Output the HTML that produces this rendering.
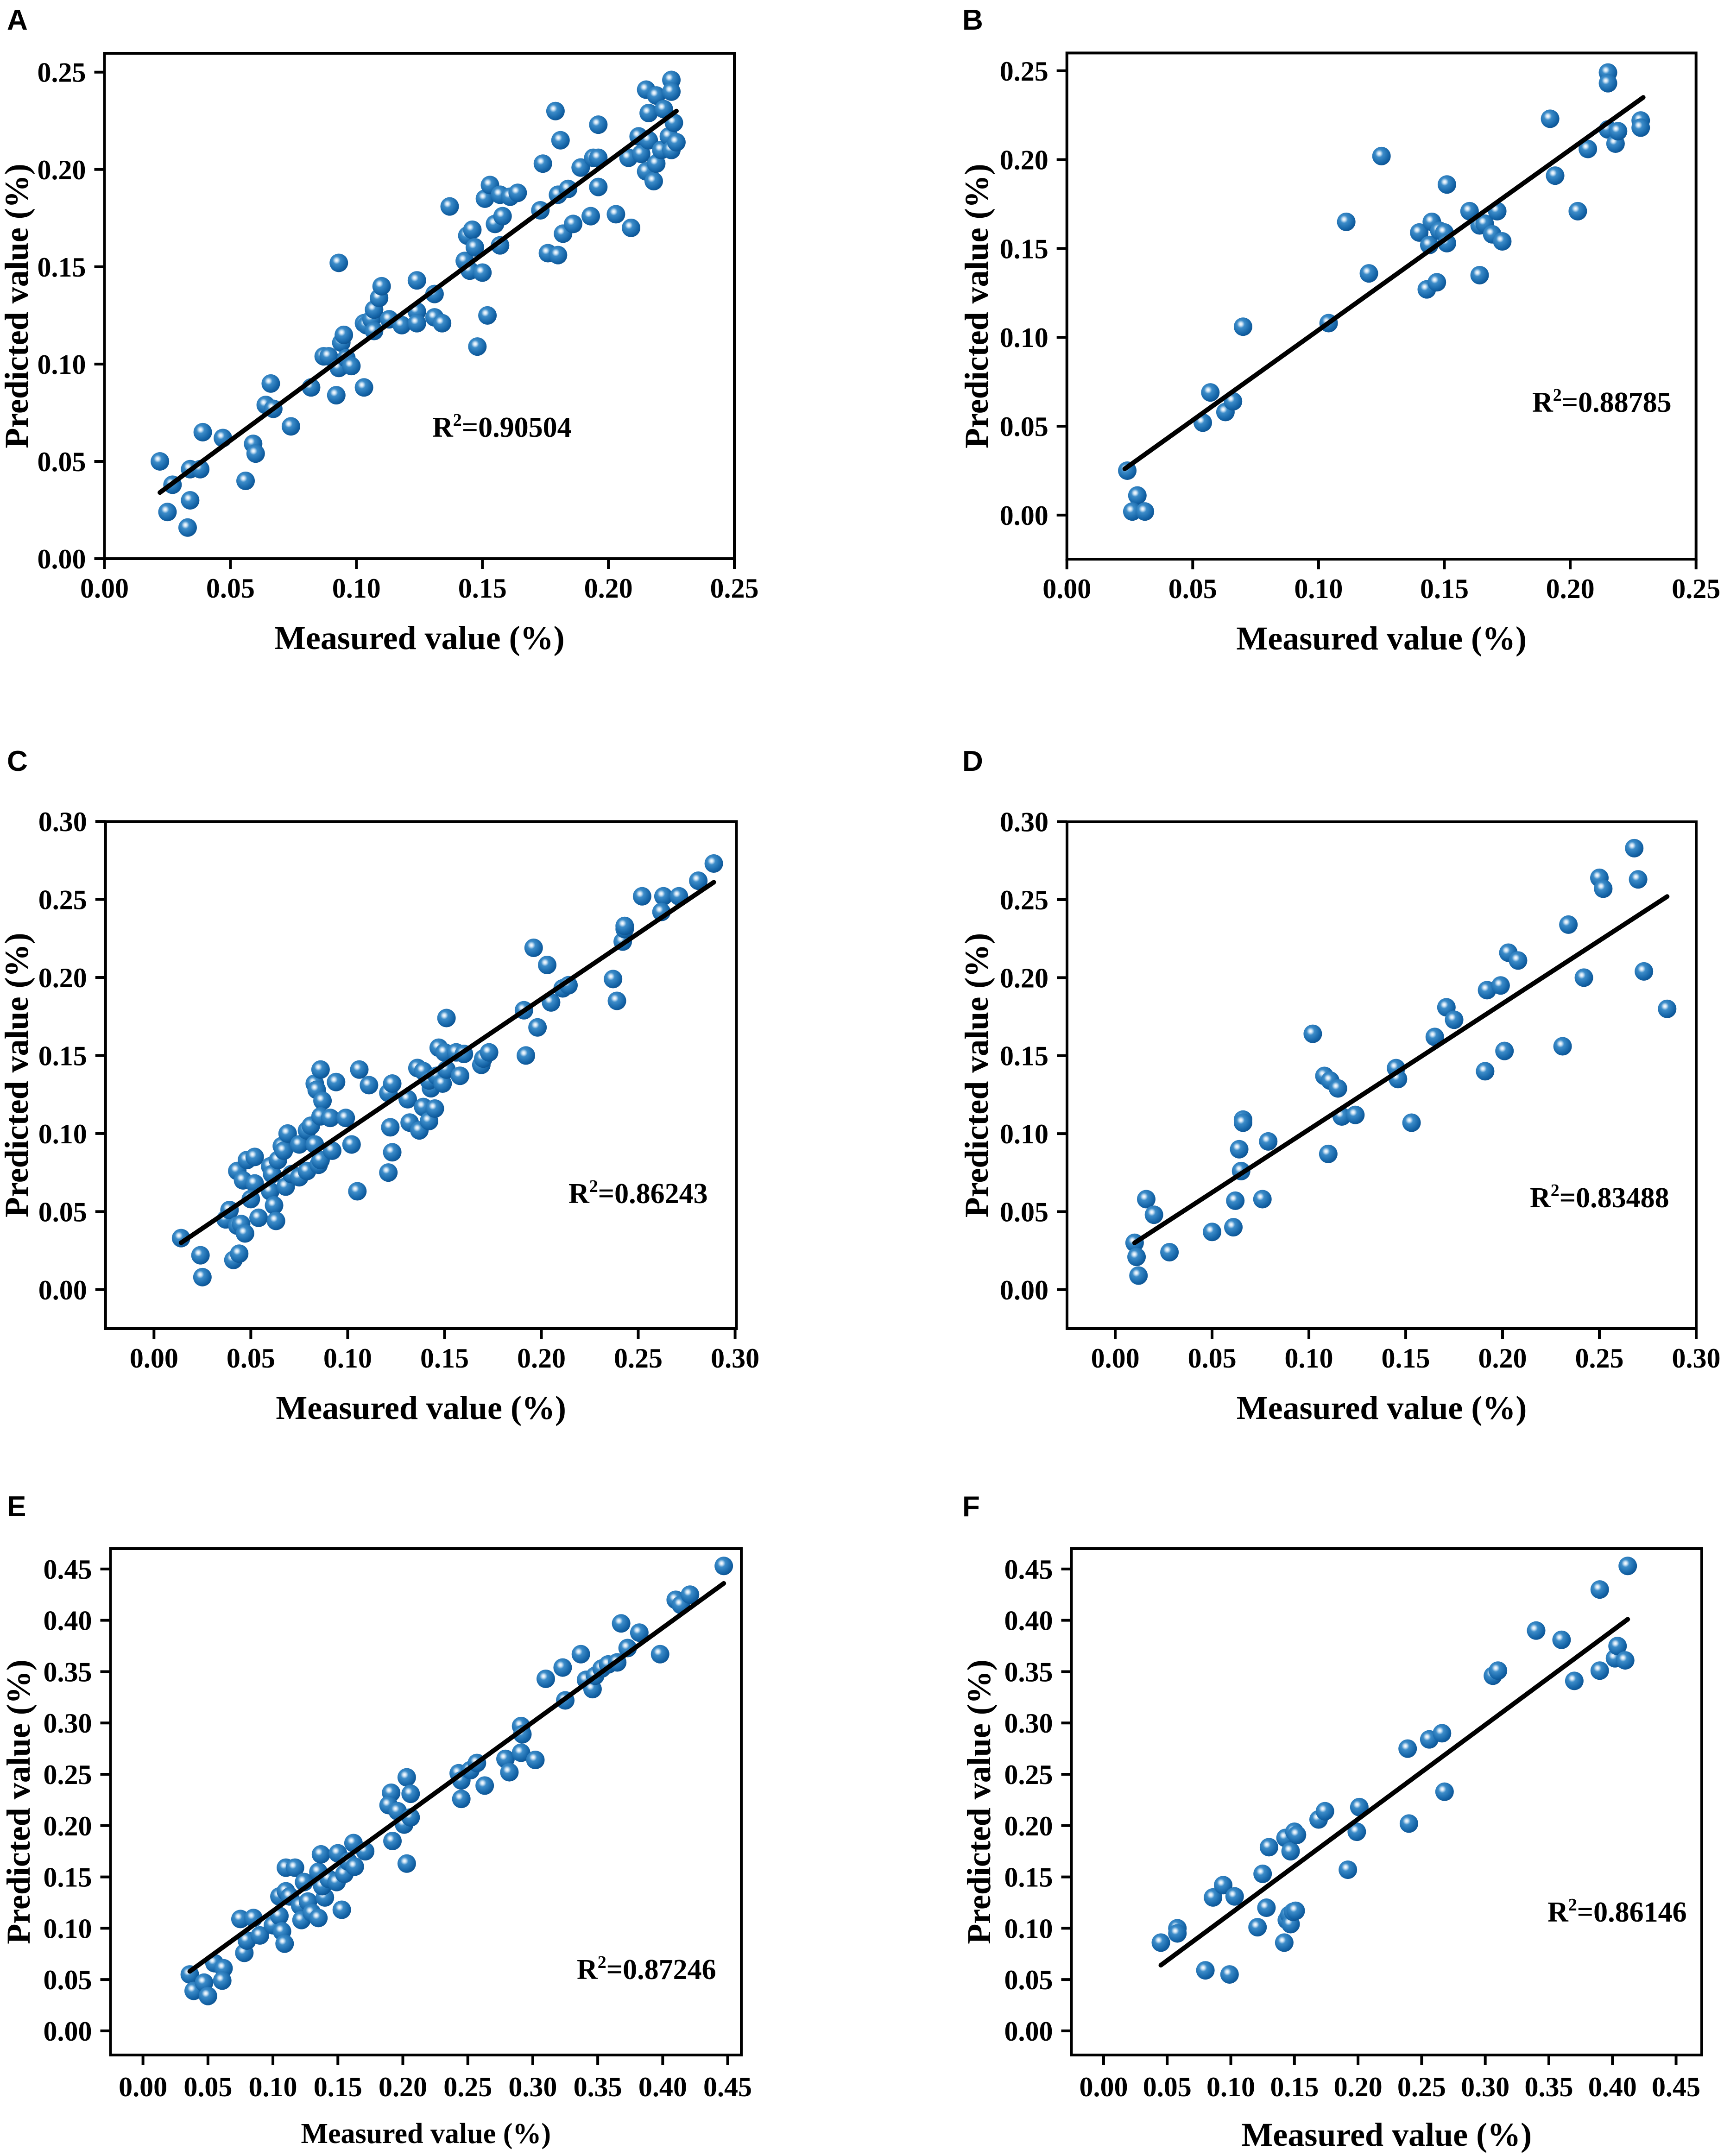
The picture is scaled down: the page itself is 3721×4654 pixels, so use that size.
<!DOCTYPE html>
<html><head><meta charset="utf-8"><title>Measured vs predicted scatter plots</title>
<style>
html,body{margin:0;padding:0;background:#fff;}
svg{display:block;}
text{font-family:"Liberation Serif",serif;font-weight:bold;fill:#000;}
.letter{font-family:"Liberation Sans",sans-serif;font-size:62px;}
.tick{font-size:60px;}
.title{font-size:72px;}
</style></head>
<body>
<svg id="fig" xmlns="http://www.w3.org/2000/svg" width="3721" height="4654" viewBox="0 0 3721 4654">
<defs>
<radialGradient id="ball" cx="0.38" cy="0.36" r="0.7">
<stop offset="0" stop-color="#ffffff"/>
<stop offset="0.12" stop-color="#cfe4f5"/>
<stop offset="0.3" stop-color="#3c8cc9"/>
<stop offset="0.75" stop-color="#1565a8"/>
<stop offset="1" stop-color="#0b4f8c"/>
</radialGradient>
</defs>
</svg>
<script>
// Panel A
var aX=[.022,.027,.025,.033,.034,.034,.038,.039,.047,.056,.059,.060,.066,.064,.067,.074,.082,.087,.089,.092,.093,.093,.094,.095,.096,.098,.103,.103,.104,.106,.107,.107,.109,.110,.113,.118,.124,.124,.124,.131,.131,.134,.137,.143,.144,.146,.145,.147,.148,.150,.151,.152,.153,.155,.158,.157,.157,.161,.164,.173,.174,.176,.179,.180,.180,.181,.182,.184,.186,.189,.193,.194,.196,.196,.196,.203,.208,.209,.212,.213,.215,.215,.216,.216,.218,.219,.219,.221,.222,.224,.225,.225,.226,.225,.227];
var aY=[.050,.038,.024,.016,.030,.046,.046,.065,.062,.040,.059,.054,.090,.079,.077,.068,.088,.104,.104,.084,.152,.098,.111,.115,.103,.099,.088,.121,.120,.123,.117,.128,.134,.140,.123,.120,.143,.127,.121,.136,.124,.121,.181,.153,.166,.169,.148,.160,.109,.147,.185,.125,.192,.172,.176,.161,.187,.186,.188,.179,.203,.157,.230,.156,.187,.215,.167,.190,.172,.201,.176,.206,.223,.191,.206,.177,.206,.170,.217,.208,.199,.241,.229,.215,.194,.203,.238,.210,.231,.217,.246,.240,.224,.210,.214];
var aFitX=[0.022,0.227];
var aFitY=[0.034,0.230];
// Panel B
var bX=[.024,.028,.026,.031,.054,.057,.063,.066,.070,.104,.111,.120,.125,.140,.143,.144,.145,.147,.148,.150,.151,.151,.160,.164,.164,.166,.169,.171,.173,.192,.194,.203,.207,.215,.215,.215,.218,.219,.228,.228];
var bY=[.025,.011,.002,.002,.052,.069,.058,.064,.106,.108,.165,.136,.202,.159,.127,.152,.165,.131,.160,.159,.153,.186,.171,.163,.135,.164,.158,.171,.154,.223,.191,.171,.206,.249,.243,.217,.209,.216,.222,.218];
var bFitX=[0.023,0.229];
var bFitY=[0.026,0.235];
// Panel C
var cX=[.014,.024,.025,.041,.044,.037,.039,.043,.045,.047,.043,.046,.048,.052,.052,.050,.054,.060,.061,.060,.062,.063,.064,.066,.067,.069,.068,.071,.075,.075,.079,.079,.081,.083,.085,.086,.083,.084,.086,.087,.086,.091,.092,.094,.099,.102,.105,.106,.111,.121,.122,.123,.121,.123,.131,.132,.137,.136,.139,.139,.142,.143,.142,.145,.146,.147,.149,.151,.151,.150,.156,.158,.160,.169,.170,.173,.192,.191,.198,.196,.203,.205,.211,.214,.237,.239,.242,.243,.243,.252,.263,.262,.271,.281,.289];
var cY=[.033,.022,.008,.019,.023,.045,.051,.041,.042,.036,.076,.070,.083,.085,.068,.058,.046,.079,.074,.063,.054,.044,.083,.092,.089,.100,.066,.074,.093,.072,.076,.102,.105,.093,.080,.083,.132,.128,.141,.121,.111,.110,.089,.133,.110,.093,.063,.141,.131,.075,.104,.088,.126,.132,.122,.107,.102,.142,.117,.140,.108,.129,.134,.116,.137,.155,.132,.141,.174,.152,.152,.137,.151,.144,.148,.152,.150,.179,.168,.219,.208,.184,.193,.195,.199,.185,.223,.231,.233,.252,.252,.242,.252,.262,.273];
var cFitX=[0.014,0.289];
var cFitY=[0.030,0.261];
// Panel D
var dX=[.010,.011,.012,.016,.020,.028,.050,.061,.062,.064,.065,.066,.066,.076,.079,.102,.108,.111,.110,.115,.117,.124,.145,.146,.153,.165,.171,.175,.191,.192,.199,.201,.203,.208,.231,.234,.242,.250,.252,.268,.270,.273,.285];
var dY=[.030,.021,.009,.058,.048,.024,.037,.040,.057,.090,.076,.109,.107,.058,.095,.164,.137,.134,.087,.129,.111,.112,.142,.135,.107,.162,.181,.173,.140,.192,.195,.153,.216,.211,.156,.234,.200,.264,.257,.283,.263,.204,.180];
var dFitX=[0.010,0.285];
var dFitY=[0.030,0.252];
// Panel E
var eX=[.036,.039,.047,.050,.055,.062,.061,.078,.080,.075,.085,.090,.100,.105,.105,.107,.109,.110,.110,.117,.113,.121,.122,.124,.127,.130,.135,.135,.137,.140,.138,.143,.149,.150,.153,.155,.158,.163,.162,.171,.192,.191,.189,.196,.201,.203,.203,.206,.206,.243,.245,.245,.252,.257,.263,.279,.282,.291,.291,.292,.302,.310,.323,.325,.337,.341,.346,.348,.353,.358,.365,.368,.373,.382,.398,.410,.414,.421,.447];
var eY=[.055,.039,.047,.034,.066,.061,.049,.076,.088,.109,.110,.093,.103,.131,.112,.097,.085,.136,.159,.159,.131,.122,.108,.145,.126,.115,.110,.155,.172,.130,.141,.148,.145,.173,.118,.153,.165,.160,.183,.175,.185,.232,.220,.214,.201,.163,.247,.231,.208,.251,.226,.244,.254,.261,.239,.265,.252,.271,.297,.289,.264,.343,.354,.322,.367,.342,.333,.346,.353,.357,.359,.397,.373,.388,.367,.420,.415,.425,.453];
var eFitX=[0.036,0.447];
var eFitY=[0.058,0.436];
// Panel F
var fX=[.045,.058,.058,.080,.099,.086,.094,.103,.121,.125,.128,.130,.142,.144,.146,.147,.149,.151,.143,.147,.150,.152,.169,.174,.192,.199,.201,.239,.240,.256,.266,.268,.306,.310,.340,.360,.370,.390,.390,.402,.404,.410,.412];
var fY=[.086,.100,.095,.059,.055,.130,.142,.131,.101,.153,.120,.179,.086,.108,.113,.104,.116,.117,.188,.175,.194,.191,.206,.214,.157,.194,.218,.275,.202,.284,.290,.233,.346,.351,.390,.381,.341,.351,.430,.363,.375,.361,.453];
var fFitX=[0.045,0.412];
var fFitY=[0.064,0.401];
// Tick labels
var ticks25=["0.00","0.05","0.10","0.15","0.20","0.25"];
var ticks30=["0.00","0.05","0.10","0.15","0.20","0.25","0.30"];
var ticks45=["0.00","0.05","0.10","0.15","0.20","0.25","0.30","0.35","0.40","0.45"];
var r2Labels=["0.90504","0.88785","0.86243","0.83488","0.87246","0.86146"];

var NS="http://www.w3.org/2000/svg";
var svg=document.getElementById('fig');
function mk(tag,parent){var e=document.createElementNS(NS,tag);parent.appendChild(e);return e;}

var panels=[
 {id:'a',letter:'A',xs:aX,ys:aY,fx:aFitX,fy:aFitY,xt:ticks25,yt:ticks25,L:225.5,R:1585,T:115,B:1206,x0:0,x1:0.25,y0:0,y1:0.2597,r2:r2Labels[0],r2x:933,r2y:943,ytx:60,lx:15,ly:64,xtb:84,xtf:72,xty:195},
 {id:'b',letter:'B',xs:bX,ys:bY,fx:bFitX,fy:bFitY,xt:ticks25,yt:ticks25,L:2302.7,R:3660.7,T:114.4,B:1207,x0:0,x1:0.25,y0:-0.0248,y1:0.26,r2:r2Labels[1],r2x:3307,r2y:889,ytx:2132,lx:2077,ly:64,xtb:84,xtf:72,xty:195},
 {id:'c',letter:'C',xs:cX,ys:cY,fx:cFitX,fy:cFitY,xt:ticks30,yt:ticks30,L:227.8,R:1589.5,T:1773.4,B:2868,x0:-0.025,x1:0.3007,y0:-0.025,y1:0.2999,r2:r2Labels[2],r2x:1227,r2y:2597,ytx:60,lx:15,ly:1664,xtb:84,xtf:72,xty:195},
 {id:'d',letter:'D',xs:dX,ys:dY,fx:dFitX,fy:dFitY,xt:ticks30,yt:ticks30,L:2303,R:3661,T:1774,B:2868,x0:-0.0249,x1:0.3,y0:-0.025,y1:0.2999,r2:r2Labels[3],r2x:3302,r2y:2606,ytx:2132,lx:2077,ly:1664,xtb:84,xtf:72,xty:195},
 {id:'e',letter:'E',xs:eX,ys:eY,fx:eFitX,fy:eFitY,xt:ticks45,yt:ticks45,L:238.5,R:1600,T:3343,B:4436,x0:-0.025,x1:0.4605,y0:-0.0235,y1:0.4698,r2:r2Labels[4],r2x:1245,r2y:4272,ytx:64,lx:15,ly:3273,xtb:89,xtf:62,xty:190},
 {id:'f',letter:'F',xs:fX,ys:fY,fx:fFitX,fy:fFitY,xt:ticks45,yt:ticks45,L:2312.5,R:3673,T:3343,B:4436,x0:-0.0253,x1:0.4702,y0:-0.0235,y1:0.4698,r2:r2Labels[5],r2x:3340,r2y:4148,ytx:2137,lx:2077,ly:3273,xtb:89,xtf:72,xty:196}
];

panels.forEach(function(p){
  var g=mk('g',svg);
  
  
  function sx(v){return p.L+(v-p.x0)/(p.x1-p.x0)*(p.R-p.L);}
  function sy(v){return p.B-(v-p.y0)/(p.y1-p.y0)*(p.B-p.T);}

  var lt=mk('text',g);
  
  
  lt.setAttribute('class','letter');
  lt.setAttribute('x',p.lx);lt.setAttribute('y',p.ly);
  lt.textContent=p.letter;

  var box=mk('rect',g);
  
  
  box.setAttribute('x',p.L);box.setAttribute('y',p.T);
  box.setAttribute('width',p.R-p.L);box.setAttribute('height',p.B-p.T);
  box.setAttribute('fill','none');box.setAttribute('stroke','#000');box.setAttribute('stroke-width','6');

  p.xt.forEach(function(t){
    var v=parseFloat(t),x=sx(v);
    var tk=mk('line',g);
    
    
    tk.setAttribute('x1',x);tk.setAttribute('x2',x);tk.setAttribute('y1',p.B);tk.setAttribute('y2',p.B+22);
    tk.setAttribute('stroke','#000');tk.setAttribute('stroke-width','6');
    var tl=mk('text',g);
    
    
    tl.setAttribute('class','tick');
    tl.setAttribute('x',x);tl.setAttribute('y',p.B+p.xtb);tl.setAttribute('text-anchor','middle');
    tl.textContent=t;
  });
  p.yt.forEach(function(t){
    var v=parseFloat(t),y=sy(v);
    var tk=mk('line',g);
    
    
    tk.setAttribute('x1',p.L-22);tk.setAttribute('x2',p.L);tk.setAttribute('y1',y);tk.setAttribute('y2',y);
    tk.setAttribute('stroke','#000');tk.setAttribute('stroke-width','6');
    var tl=mk('text',g);
    
    
    tl.setAttribute('class','tick');
    tl.setAttribute('x',p.L-40);tl.setAttribute('y',y+21);tl.setAttribute('text-anchor','end');
    tl.textContent=t;
  });

  var xt=mk('text',g);
  
  
  xt.setAttribute('class','title');
  xt.setAttribute('style','font-size:'+p.xtf+'px');
  xt.setAttribute('x',(p.L+p.R)/2);xt.setAttribute('y',p.B+p.xty);xt.setAttribute('text-anchor','middle');
  xt.textContent='Measured value (%)';

  var yc=(p.T+p.B)/2;
  var yt=mk('text',g);
  
  
  yt.setAttribute('class','title');
  yt.setAttribute('x',p.ytx);yt.setAttribute('y',yc);yt.setAttribute('text-anchor','middle');
  yt.setAttribute('transform','rotate(-90 '+p.ytx+' '+yc+')');
  yt.textContent='Predicted value (%)';

  for(var i=0;i<p.xs.length;i++){
    var c=mk('circle',g);
    
    
    c.setAttribute('cx',sx(p.xs[i]));c.setAttribute('cy',sy(p.ys[i]));c.setAttribute('r','20');
    c.setAttribute('fill','url(#ball)');
  }

  var fl=mk('line',g);
  
  
  fl.setAttribute('x1',sx(p.fx[0]));fl.setAttribute('y1',sy(p.fy[0]));
  fl.setAttribute('x2',sx(p.fx[1]));fl.setAttribute('y2',sy(p.fy[1]));
  fl.setAttribute('stroke','#000');fl.setAttribute('stroke-width','10');fl.setAttribute('stroke-linecap','round');

  var r2=mk('text',g);
  
  
  r2.setAttribute('style','font-size:62px');
  r2.setAttribute('x',p.r2x);r2.setAttribute('y',p.r2y);
  var t1=mk('tspan',r2);t1.textContent='R';
  var t2=mk('tspan',r2);t2.setAttribute('dy','-24');t2.setAttribute('style','font-size:38px');t2.textContent='2';
  var t3=mk('tspan',r2);t3.setAttribute('dy','24');t3.textContent='='+p.r2;
});
</script>
</body></html>
